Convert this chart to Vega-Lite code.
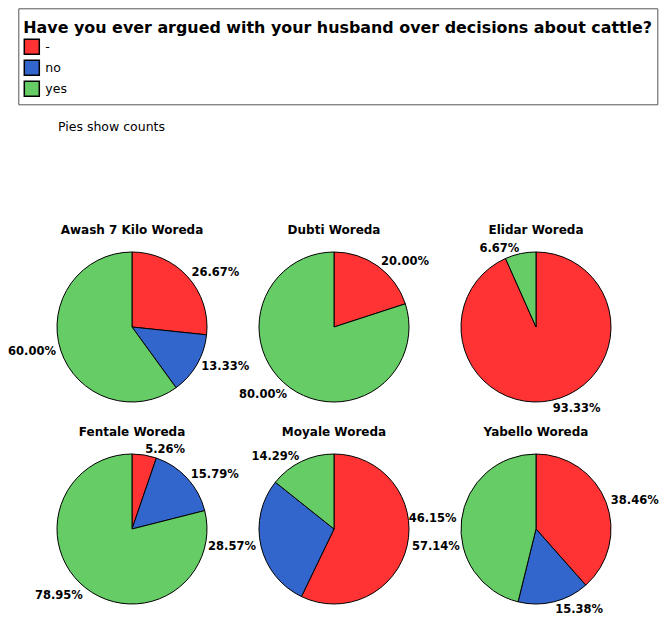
{
  "$schema": "https://vega.github.io/schema/vega-lite/v6.json",
  "padding": {"left": 8, "top": 7, "right": 0, "bottom": 0},
  "background": "white",
  "data": {"values": [
    {"woreda": "Awash 7 Kilo Woreda", "answer": "-", "count": 4},
    {"woreda": "Awash 7 Kilo Woreda", "answer": "no", "count": 2},
    {"woreda": "Awash 7 Kilo Woreda", "answer": "yes", "count": 9},
    {"woreda": "Dubti Woreda", "answer": "-", "count": 1},
    {"woreda": "Dubti Woreda", "answer": "yes", "count": 4},
    {"woreda": "Elidar Woreda", "answer": "-", "count": 14},
    {"woreda": "Elidar Woreda", "answer": "yes", "count": 1},
    {"woreda": "Fentale Woreda", "answer": "-", "count": 1},
    {"woreda": "Fentale Woreda", "answer": "no", "count": 3},
    {"woreda": "Fentale Woreda", "answer": "yes", "count": 15},
    {"woreda": "Moyale Woreda", "answer": "-", "count": 4},
    {"woreda": "Moyale Woreda", "answer": "no", "count": 2},
    {"woreda": "Moyale Woreda", "answer": "yes", "count": 1},
    {"woreda": "Yabello Woreda", "answer": "-", "count": 5},
    {"woreda": "Yabello Woreda", "answer": "no", "count": 2},
    {"woreda": "Yabello Woreda", "answer": "yes", "count": 6}
  ]},
  "transform": [
    {"stack": "count", "groupby": ["woreda"], "sort": [{"field": "answer", "order": "ascending"}], "offset": "normalize", "as": ["s0", "s1"]},
    {"calculate": "(datum.s0 + datum.s1) / 2", "as": "mid"},
    {"calculate": "datum.s1 - datum.s0", "as": "pct"}
  ],
  "title": {"text": "Pies show counts", "anchor": "start", "frame": "group", "font": "DejaVu Sans", "fontSize": 12.5, "fontWeight": "normal", "color": "black", "offset": 0, "dx": 11, "dy": 126},
  "bounds": "flush",
  "facet": {"field": "woreda", "type": "nominal", "header": {"title": null, "labelFont": "DejaVu Sans", "labelFontSize": 12, "labelFontWeight": "bold", "labelColor": "black", "labelPadding": 5}},
  "columns": 3,
  "spacing": {"row": 32, "column": 32},
  "spec": {
    "width": 170,
    "height": 170,
    "layer": [
      {
        "mark": {"type": "arc", "outerRadius": 75, "stroke": "black", "strokeWidth": 1},
        "encoding": {
          "theta": {"field": "s0", "type": "quantitative", "scale": {"domain": [0, 1]}},
          "theta2": {"field": "s1"},
          "color": {
            "field": "answer", "type": "nominal",
            "scale": {"domain": ["-", "no", "yes"], "range": ["#ff3333", "#3366cc", "#66cc66"]},
            "legend": {
              "title": "Have you ever argued with your husband over decisions about cattle?",
              "orient": "none", "legendX": -28.7, "legendY": -233.7,
              "strokeColor": "#555555", "padding": 5,
              "titleFont": "DejaVu Sans", "titleFontSize": 15.9, "titleFontWeight": "bold", "titleColor": "black", "titleLimit": 1000, "titlePadding": 9,
              "titleBaseline": "line-top", "titleLineHeight": 31,
              "symbolType": "square", "symbolSize": 225, "symbolStrokeColor": "black", "symbolStrokeWidth": 1.5, "symbolOpacity": 1,
              "labelFont": "DejaVu Sans", "labelFontSize": 12.5, "labelColor": "black", "labelOffset": 5,
              "rowPadding": 0
            }
          }
        }
      },
      {
        "transform": [{"filter": "datum.mid < 0.375"}],
        "mark": {"type": "text", "radius": 80, "align": "left", "baseline": "middle", "font": "DejaVu Sans", "fontWeight": "bold", "fontSize": 11.5, "color": "black"},
        "encoding": {
          "theta": {"field": "mid", "type": "quantitative", "scale": {"domain": [0, 1]}},
          "text": {"field": "pct", "type": "quantitative", "format": ".2%"}
        }
      },
      {
        "transform": [{"filter": "datum.mid >= 0.375 && datum.mid < 0.5"}],
        "mark": {"type": "text", "radius": 80, "align": "left", "baseline": "top", "dy": -2.5, "font": "DejaVu Sans", "fontWeight": "bold", "fontSize": 11.5, "color": "black"},
        "encoding": {
          "theta": {"field": "mid", "type": "quantitative", "scale": {"domain": [0, 1]}},
          "text": {"field": "pct", "type": "quantitative", "format": ".2%"}
        }
      },
      {
        "transform": [{"filter": "datum.mid >= 0.5 && datum.mid < 0.625"}],
        "mark": {"type": "text", "radius": 80, "align": "right", "baseline": "top", "dy": -2.5, "font": "DejaVu Sans", "fontWeight": "bold", "fontSize": 11.5, "color": "black"},
        "encoding": {
          "theta": {"field": "mid", "type": "quantitative", "scale": {"domain": [0, 1]}},
          "text": {"field": "pct", "type": "quantitative", "format": ".2%"}
        }
      },
      {
        "transform": [{"filter": "datum.mid >= 0.625"}],
        "mark": {"type": "text", "radius": 80, "align": "right", "baseline": "middle", "font": "DejaVu Sans", "fontWeight": "bold", "fontSize": 11.5, "color": "black"},
        "encoding": {
          "theta": {"field": "mid", "type": "quantitative", "scale": {"domain": [0, 1]}},
          "text": {"field": "pct", "type": "quantitative", "format": ".2%"}
        }
      }
    ]
  },
  "config": {"view": {"stroke": null}, "font": "DejaVu Sans"}
}
